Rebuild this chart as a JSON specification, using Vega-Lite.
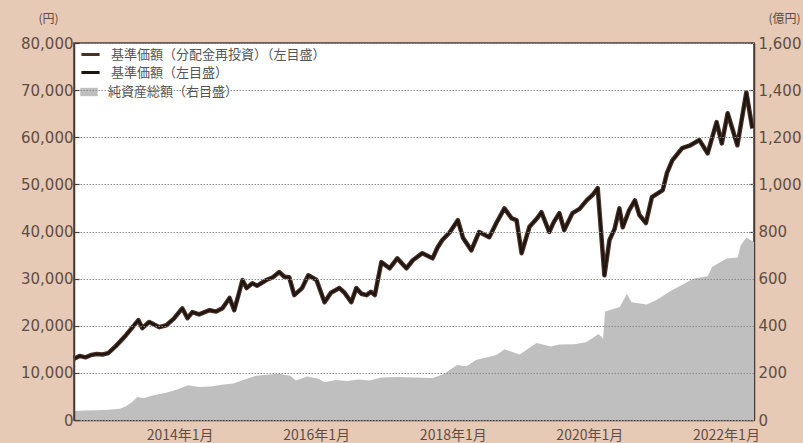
{
  "$schema": "https://vega.github.io/schema/vega-lite/v6.json",
  "width": 680,
  "height": 377,
  "autosize": {"type": "none"},
  "padding": {"left": 74, "top": 43, "right": 49, "bottom": 23},
  "background": "#e6cab6",
  "config": {
    "view": {"fill": "white", "stroke": "#4a3b33", "strokeWidth": 1.5},
    "font": "DejaVu Sans",
    "axis": {
      "labelFont": "DejaVu Sans",
      "labelFontSize": 15,
      "labelColor": "#5e4e45",
      "domainColor": "#4a3b33",
      "domainWidth": 1.5,
      "tickColor": "#4a3b33",
      "tickWidth": 1.2,
      "tickSize": -5,
      "titleFont": "Noto Sans CJK JP",
      "titleFontSize": 12,
      "titleFontWeight": "normal",
      "titleColor": "#5e4e45"
    },
    "legend": {
      "labelFont": "Noto Sans CJK JP",
      "labelFontSize": 13,
      "labelColor": "#555555",
      "labelLimit": 400,
      "title": null
    }
  },
  "datasets": {
    "nav": [
      {"date": "2012-06-15", "reinvest": 13000, "nav": 13000},
      {"date": "2012-07-15", "reinvest": 13600, "nav": 13600},
      {"date": "2012-08-15", "reinvest": 13300, "nav": 13300},
      {"date": "2012-09-15", "reinvest": 13800, "nav": 13800},
      {"date": "2012-10-15", "reinvest": 14000, "nav": 14000},
      {"date": "2012-11-15", "reinvest": 13900, "nav": 13900},
      {"date": "2012-12-15", "reinvest": 14200, "nav": 14200},
      {"date": "2013-01-20", "reinvest": 15500, "nav": 15500},
      {"date": "2013-02-20", "reinvest": 16800, "nav": 16800},
      {"date": "2013-03-20", "reinvest": 18000, "nav": 18000},
      {"date": "2013-04-20", "reinvest": 19500, "nav": 19500},
      {"date": "2013-05-25", "reinvest": 21200, "nav": 21200},
      {"date": "2013-06-15", "reinvest": 19500, "nav": 19500},
      {"date": "2013-07-22", "reinvest": 20800, "nav": 20800},
      {"date": "2013-08-20", "reinvest": 20200, "nav": 20200},
      {"date": "2013-09-15", "reinvest": 19700, "nav": 19700},
      {"date": "2013-10-22", "reinvest": 20100, "nav": 20100},
      {"date": "2013-12-01", "reinvest": 21500, "nav": 21500},
      {"date": "2014-01-15", "reinvest": 23700, "nav": 23700},
      {"date": "2014-02-12", "reinvest": 21600, "nav": 21600},
      {"date": "2014-03-10", "reinvest": 22900, "nav": 22900},
      {"date": "2014-04-15", "reinvest": 22400, "nav": 22400},
      {"date": "2014-05-15", "reinvest": 22900, "nav": 22900},
      {"date": "2014-06-10", "reinvest": 23300, "nav": 23300},
      {"date": "2014-07-15", "reinvest": 23000, "nav": 23000},
      {"date": "2014-08-18", "reinvest": 23700, "nav": 23700},
      {"date": "2014-09-25", "reinvest": 25900, "nav": 25900},
      {"date": "2014-10-20", "reinvest": 23300, "nav": 23300},
      {"date": "2014-11-15", "reinvest": 27000, "nav": 27000},
      {"date": "2014-12-03", "reinvest": 29700, "nav": 29700},
      {"date": "2014-12-25", "reinvest": 28000, "nav": 28000},
      {"date": "2015-01-25", "reinvest": 29000, "nav": 29000},
      {"date": "2015-02-20", "reinvest": 28500, "nav": 28500},
      {"date": "2015-04-10", "reinvest": 29700, "nav": 29700},
      {"date": "2015-05-15", "reinvest": 30300, "nav": 30300},
      {"date": "2015-06-18", "reinvest": 31400, "nav": 31400},
      {"date": "2015-07-15", "reinvest": 30400, "nav": 30400},
      {"date": "2015-08-10", "reinvest": 30300, "nav": 30300},
      {"date": "2015-09-06", "reinvest": 26500, "nav": 26500},
      {"date": "2015-10-18", "reinvest": 28000, "nav": 28000},
      {"date": "2015-11-20", "reinvest": 30700, "nav": 30700},
      {"date": "2016-01-03", "reinvest": 29700, "nav": 29700},
      {"date": "2016-02-15", "reinvest": 25000, "nav": 25000},
      {"date": "2016-03-20", "reinvest": 27000, "nav": 27000},
      {"date": "2016-05-05", "reinvest": 28000, "nav": 28000},
      {"date": "2016-06-01", "reinvest": 27000, "nav": 27000},
      {"date": "2016-07-07", "reinvest": 25000, "nav": 25000},
      {"date": "2016-08-03", "reinvest": 28000, "nav": 28000},
      {"date": "2016-08-30", "reinvest": 26800, "nav": 26800},
      {"date": "2016-09-27", "reinvest": 26500, "nav": 26500},
      {"date": "2016-10-20", "reinvest": 27200, "nav": 27200},
      {"date": "2016-11-10", "reinvest": 26500, "nav": 26500},
      {"date": "2016-12-15", "reinvest": 33500, "nav": 33500},
      {"date": "2017-01-28", "reinvest": 32200, "nav": 32200},
      {"date": "2017-03-10", "reinvest": 34300, "nav": 34300},
      {"date": "2017-04-28", "reinvest": 32200, "nav": 32200},
      {"date": "2017-06-01", "reinvest": 33900, "nav": 33900},
      {"date": "2017-07-22", "reinvest": 35400, "nav": 35400},
      {"date": "2017-09-15", "reinvest": 34300, "nav": 34300},
      {"date": "2017-10-10", "reinvest": 36500, "nav": 36500},
      {"date": "2017-11-06", "reinvest": 38200, "nav": 38200},
      {"date": "2017-12-15", "reinvest": 39800, "nav": 39800},
      {"date": "2018-01-28", "reinvest": 42400, "nav": 42400},
      {"date": "2018-02-25", "reinvest": 38600, "nav": 38600},
      {"date": "2018-04-10", "reinvest": 36000, "nav": 36000},
      {"date": "2018-05-22", "reinvest": 39900, "nav": 39900},
      {"date": "2018-07-15", "reinvest": 38800, "nav": 38800},
      {"date": "2018-08-22", "reinvest": 41800, "nav": 41800},
      {"date": "2018-10-04", "reinvest": 44900, "nav": 44900},
      {"date": "2018-11-12", "reinvest": 42800, "nav": 42800},
      {"date": "2018-12-08", "reinvest": 42400, "nav": 42400},
      {"date": "2019-01-04", "reinvest": 35400, "nav": 35400},
      {"date": "2019-02-15", "reinvest": 41000, "nav": 41000},
      {"date": "2019-03-28", "reinvest": 42800, "nav": 42800},
      {"date": "2019-04-20", "reinvest": 44100, "nav": 44100},
      {"date": "2019-06-01", "reinvest": 39900, "nav": 39900},
      {"date": "2019-06-25", "reinvest": 42000, "nav": 42000},
      {"date": "2019-07-25", "reinvest": 43900, "nav": 43900},
      {"date": "2019-08-20", "reinvest": 40300, "nav": 40300},
      {"date": "2019-10-03", "reinvest": 43900, "nav": 43900},
      {"date": "2019-11-10", "reinvest": 44800, "nav": 44800},
      {"date": "2019-12-18", "reinvest": 46600, "nav": 46600},
      {"date": "2020-01-20", "reinvest": 47800, "nav": 47800},
      {"date": "2020-02-15", "reinvest": 49200, "nav": 49200},
      {"date": "2020-03-22", "reinvest": 30700, "nav": 30700},
      {"date": "2020-04-18", "reinvest": 38200, "nav": 38200},
      {"date": "2020-05-15", "reinvest": 40500, "nav": 40500},
      {"date": "2020-06-10", "reinvest": 44900, "nav": 44900},
      {"date": "2020-06-28", "reinvest": 40900, "nav": 40900},
      {"date": "2020-08-01", "reinvest": 44500, "nav": 44500},
      {"date": "2020-09-01", "reinvest": 46600, "nav": 46600},
      {"date": "2020-09-25", "reinvest": 43500, "nav": 43500},
      {"date": "2020-10-30", "reinvest": 41800, "nav": 41800},
      {"date": "2020-12-01", "reinvest": 47300, "nav": 47300},
      {"date": "2021-01-28", "reinvest": 48800, "nav": 48800},
      {"date": "2021-02-20", "reinvest": 52500, "nav": 52500},
      {"date": "2021-03-20", "reinvest": 55100, "nav": 55100},
      {"date": "2021-05-12", "reinvest": 57700, "nav": 57700},
      {"date": "2021-06-20", "reinvest": 58200, "nav": 58200},
      {"date": "2021-08-12", "reinvest": 59400, "nav": 59400},
      {"date": "2021-09-25", "reinvest": 56600, "nav": 56600},
      {"date": "2021-11-12", "reinvest": 63200, "nav": 63200},
      {"date": "2021-12-10", "reinvest": 58700, "nav": 58700},
      {"date": "2022-01-10", "reinvest": 65100, "nav": 65100},
      {"date": "2022-03-03", "reinvest": 58300, "nav": 58300},
      {"date": "2022-04-20", "reinvest": 69500, "nav": 69500},
      {"date": "2022-05-22", "reinvest": 61900, "nav": 61900}
    ],
    "assets": [
      {"date": "2012-06-15", "assets": 38},
      {"date": "2012-08-15", "assets": 40},
      {"date": "2012-10-15", "assets": 41},
      {"date": "2012-12-15", "assets": 43},
      {"date": "2013-02-15", "assets": 48},
      {"date": "2013-03-20", "assets": 58},
      {"date": "2013-04-20", "assets": 75},
      {"date": "2013-05-20", "assets": 98},
      {"date": "2013-06-20", "assets": 92},
      {"date": "2013-08-15", "assets": 105},
      {"date": "2013-10-15", "assets": 115},
      {"date": "2013-12-15", "assets": 128},
      {"date": "2014-02-15", "assets": 148},
      {"date": "2014-04-15", "assets": 140},
      {"date": "2014-06-15", "assets": 142},
      {"date": "2014-08-15", "assets": 150},
      {"date": "2014-10-15", "assets": 155},
      {"date": "2014-12-15", "assets": 172},
      {"date": "2015-02-15", "assets": 188},
      {"date": "2015-04-15", "assets": 192},
      {"date": "2015-06-15", "assets": 196},
      {"date": "2015-08-15", "assets": 188},
      {"date": "2015-09-15", "assets": 168},
      {"date": "2015-11-15", "assets": 185},
      {"date": "2016-01-15", "assets": 175},
      {"date": "2016-02-15", "assets": 160},
      {"date": "2016-04-15", "assets": 170},
      {"date": "2016-06-15", "assets": 165},
      {"date": "2016-08-15", "assets": 172},
      {"date": "2016-10-15", "assets": 168},
      {"date": "2016-12-15", "assets": 180},
      {"date": "2017-03-15", "assets": 182},
      {"date": "2017-06-15", "assets": 180},
      {"date": "2017-09-15", "assets": 178},
      {"date": "2017-11-15", "assets": 195},
      {"date": "2017-12-15", "assets": 212},
      {"date": "2018-01-25", "assets": 233},
      {"date": "2018-03-15", "assets": 228},
      {"date": "2018-05-05", "assets": 255},
      {"date": "2018-08-22", "assets": 276},
      {"date": "2018-10-05", "assets": 300},
      {"date": "2018-12-25", "assets": 278},
      {"date": "2019-03-25", "assets": 327},
      {"date": "2019-06-10", "assets": 312},
      {"date": "2019-07-25", "assets": 320},
      {"date": "2019-10-15", "assets": 322},
      {"date": "2019-12-18", "assets": 331},
      {"date": "2020-02-20", "assets": 365},
      {"date": "2020-03-15", "assets": 345},
      {"date": "2020-03-25", "assets": 460},
      {"date": "2020-06-12", "assets": 480},
      {"date": "2020-07-20", "assets": 535},
      {"date": "2020-08-15", "assets": 500},
      {"date": "2020-11-03", "assets": 490},
      {"date": "2020-12-25", "assets": 509},
      {"date": "2021-03-20", "assets": 552},
      {"date": "2021-05-15", "assets": 575},
      {"date": "2021-07-10", "assets": 600},
      {"date": "2021-09-25", "assets": 610},
      {"date": "2021-10-20", "assets": 650},
      {"date": "2022-01-05", "assets": 685},
      {"date": "2022-03-05", "assets": 690},
      {"date": "2022-03-20", "assets": 740},
      {"date": "2022-04-20", "assets": 775},
      {"date": "2022-05-31", "assets": 755}
    ]
  },
  "layer": [
    {
      "data": {"name": "assets"},
      "mark": {"type": "area", "interpolate": "linear"},
      "encoding": {
        "x": {
          "field": "date",
          "type": "temporal",
          "scale": {"type": "utc", "domain": [{"year": 2012, "month": 6, "date": 15, "utc": true}, {"year": 2022, "month": 5, "date": 31, "utc": true}]},
          "axis": {
            "title": null,
            "grid": false,
            "values": [
              {"year": 2014, "month": 1, "date": 1, "utc": true},
              {"year": 2016, "month": 1, "date": 1, "utc": true},
              {"year": 2018, "month": 1, "date": 1, "utc": true},
              {"year": 2020, "month": 1, "date": 1, "utc": true},
              {"year": 2022, "month": 1, "date": 1, "utc": true}
            ],
            "labelExpr": "utcFormat(datum.value, '%Y') + '年1月'",
            "labelFont": "Noto Sans CJK JP",
            "labelFontSize": 14,
            "labelPadding": 13
          }
        },
        "y": {
          "field": "assets",
          "type": "quantitative",
          "scale": {"domain": [0, 1600]},
          "axis": {
            "orient": "right",
            "values": [0, 200, 400, 600, 800, 1000, 1200, 1400, 1600],
            "format": ",d",
            "grid": false,
            "labelPadding": 9,
            "title": "(億円)",
            "titleAngle": 0,
            "titleX": 30,
            "titleY": -25,
            "titleAlign": "center",
            "titleBaseline": "middle"
          }
        },
        "fill": {
          "datum": "純資産総額（右目盛）",
          "scale": {"range": ["#bfbfbf"]},
          "legend": {
            "orient": "none",
            "legendX": 8,
            "legendY": 42,
            "symbolType": "M-1.25,-0.6H1.25V0.6H-1.25Z",
            "symbolSize": 196,
            "symbolStrokeWidth": 0,
            "labelOffset": 12
          }
        }
      }
    },
    {
      "layer": [
        {
          "data": {"name": "nav"},
          "mark": {"type": "line", "strokeWidth": 4.5, "strokeJoin": "round"},
          "encoding": {
            "x": {"field": "date", "type": "temporal"},
            "y": {
              "field": "reinvest",
              "type": "quantitative",
              "scale": {"domain": [0, 80000]},
              "axis": {
                "orient": "left",
                "values": [0, 10000, 20000, 30000, 40000, 50000, 60000, 70000, 80000],
                "format": ",d",
                "grid": true,
                "gridColor": "#8c8c8c",
                "gridDash": [1.5, 1.5],
                "gridWidth": 1,
                "zindex": 1,
                "labelPadding": 6,
                "title": "(円)",
                "titleAngle": 0,
                "titleX": -26,
                "titleY": -25,
                "titleAlign": "center",
                "titleBaseline": "middle"
              }
            },
            "color": {
              "datum": "基準価額（分配金再投資）（左目盛）",
              "scale": {"domain": ["基準価額（分配金再投資）（左目盛）", "基準価額（左目盛）"], "range": ["#4a3024", "#1c1512"]},
              "legend": {
                "orient": "none",
                "legendX": 8,
                "legendY": 3,
                "symbolType": "M-1.3,0H1.3",
                "symbolSize": 196,
                "symbolStrokeWidth": 3,
                "labelOffset": 12,
                "rowPadding": 2
              }
            }
          }
        },
        {
          "data": {"name": "nav"},
          "mark": {"type": "line", "strokeWidth": 2.2, "strokeJoin": "round"},
          "encoding": {
            "x": {"field": "date", "type": "temporal"},
            "y": {"field": "nav", "type": "quantitative"},
            "color": {"datum": "基準価額（左目盛）"}
          }
        }
      ]
    }
  ],
  "resolve": {"scale": {"y": "independent"}}
}
